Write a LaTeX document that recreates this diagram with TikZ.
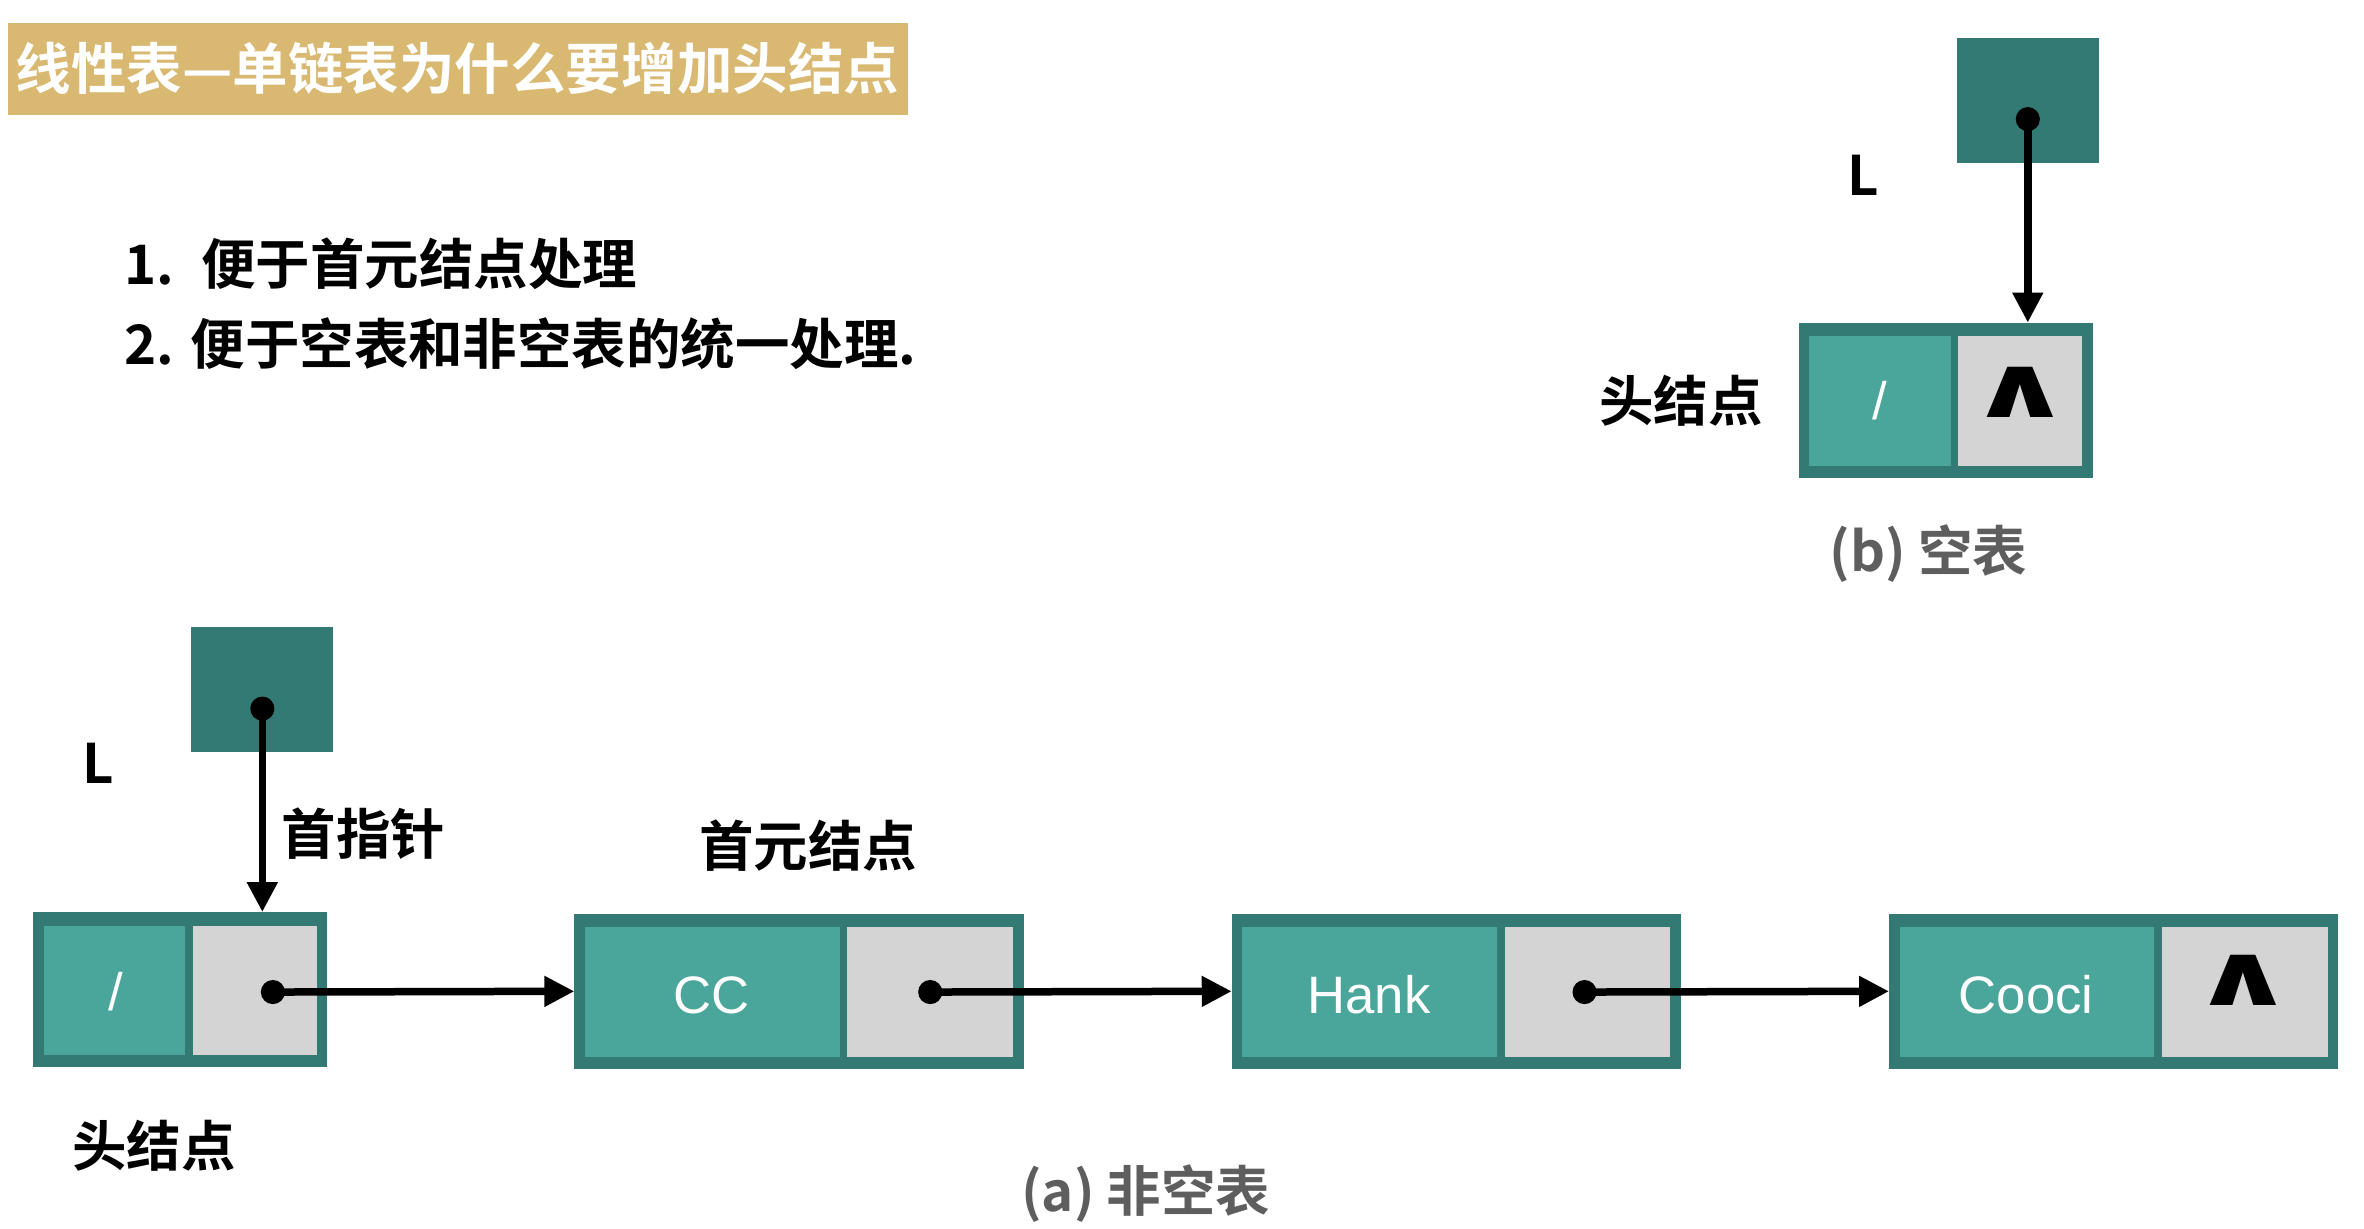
\documentclass[tikz,border=0pt]{standalone}
\usepackage{fontspec}
\usepackage{graphicx}
\setmainfont{Liberation Sans}
\newfontfamily\cjk{Noto Sans CJK SC}[BoldFont={Noto Sans CJK SC Bold}]
\newfontfamily\symb{DejaVu Sans}
\usetikzlibrary{arrows.meta}
\definecolor{tealD}{HTML}{347A74}
\definecolor{tealL}{HTML}{4AA59B}
\definecolor{cellgray}{HTML}{D4D4D4}
\definecolor{gold}{HTML}{D9B872}
\definecolor{capgray}{HTML}{5E5E5E}
\def\u{0.15077mm}
\newcommand\nilmark{\scalebox{1.95}[1.3]{∧}}
\tikzset{
  box/.style={fill=tealD, inner sep=0pt, outer sep=0pt},
  dot/.style={circle, fill=black, inner sep=0pt, minimum size=16*\u},
  ptr/.style={line width=0.75mm, -{Triangle[length=3mm, width=2.9mm]}},
  lbl/.style={font=\cjk\bfseries\fontsize{15.5}{18}\selectfont, inner sep=0pt},
  val/.style={font=\fontsize{15}{18}\selectfont, text=white, inner sep=0pt},
  nil/.style={font=\symb\bfseries\fontsize{19}{20}\selectfont, inner sep=0pt},
}
\begin{document}
\begin{tikzpicture}[x=0.15077mm, y=-0.15077mm, line join=round]
\useasboundingbox (0,0) rectangle (1568,815);
% title
\fill[gold] (5,15) rectangle (602,76);
\node[lbl, text=white, anchor=west, font=\cjk\bfseries\fontsize{15.8}{18}\selectfont] (title) at (10,45.5) {线性表—单链表为什么要增加头结点};
\node[lbl, anchor=west] (p1) at (82,175) {1.\enspace 便于首元结点处理};
\node[lbl, anchor=west] (p2) at (82,228) {2. 便于空表和非空表的统一处理.};
% list nodes: name/left/top/width/pointer cell width
\foreach \n/\x/\y/\w/\g in {ha/22/605/195/82, cc/381/606/298/110, hk/817/606/298/110, co/1253/606/298/110, hb/1193/214/195/82}{
  \node[box, minimum width=\w*\u, minimum height=103*\u] (\n) at (\x+\w/2,\y+51.5) {};
  \fill[tealL] (\x+7,\y+9) rectangle (\x+\w-12-\g,\y+95);
  \fill[cellgray] (\x+\w-7-\g,\y+9) rectangle (\x+\w-7,\y+95);
}
\node[val] (ha-v) at (77,658) {/};
\node[val] (cc-v) at (472,660) {CC};
\node[val] (hk-v) at (908,660) {Hank};
\node[val] (co-v) at (1344,660) {Cooci};
\node[val] (hb-v) at (1247,266) {/};
\node[nil] (co-n) at (1488,650) {\nilmark};
\node[nil] (hb-n) at (1340,260) {\nilmark};
% head pointers
\node[box, minimum width=94*\u, minimum height=83*\u] (la) at (174,457.5) {};
\node[box, minimum width=94*\u, minimum height=83*\u] (lb) at (1345,66.5) {};
\node[dot] (la-dot) at (174,470) {};
\node[dot] (lb-dot) at (1345,79) {};
\node[dot] (ha-dot) at (181,658) {};
\node[dot] (cc-dot) at (617,658) {};
\node[dot] (hk-dot) at (1051,658) {};
\draw[ptr] (la-dot.center) -- (ha.north -| la-dot);
\draw[ptr] (lb-dot.center) -- (hb.north -| lb-dot);
\draw[ptr] (ha-dot.center) -- (cc.west);
\draw[ptr] (cc-dot.center) -- (hk.west);
\draw[ptr] (hk-dot.center) -- (co.west);
% labels
\node[lbl] (la-l) at (65,506) {L};
\node[lbl] (lb-l) at (1236,116) {L};
\node[lbl] (first) at (241,553) {首指针};
\node[lbl] (elem) at (536,561) {首元结点};
\node[lbl] (ha-l) at (102,760) {头结点};
\node[lbl] (hb-l) at (1115,266) {头结点};
\node[lbl, text=capgray] (capa) at (760,792) {(a) 非空表};
\node[lbl, text=capgray] (capb) at (1279,367) {(b) 空表};
\end{tikzpicture}
\end{document}
